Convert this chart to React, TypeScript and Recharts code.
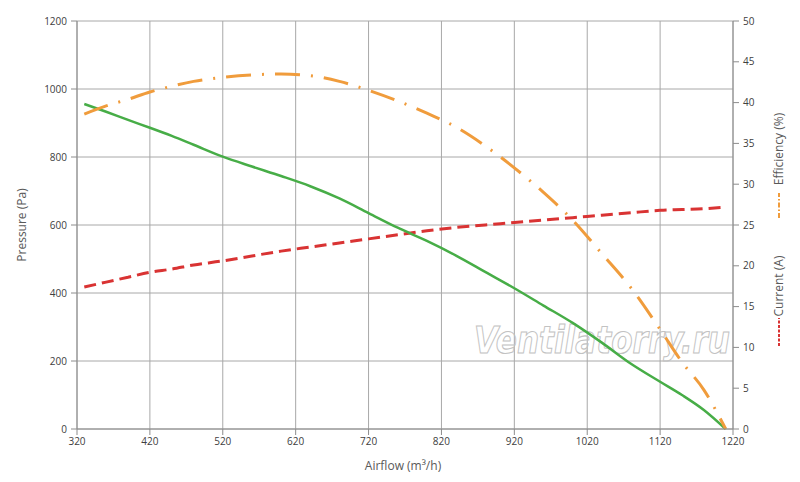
import { LineChart, Line, XAxis, YAxis, CartesianGrid, Customized } from 'recharts'

// airflow points, m3/h
const flow = [330, 360, 390, 420, 450, 480, 520, 560, 600, 640, 680, 720, 760, 800, 840, 880, 920, 960, 1000, 1040, 1080, 1120, 1150, 1180, 1210]
// Pa
const pressure = [956, 933, 909, 886, 862, 836, 801, 772, 744, 714, 678, 635, 592, 553, 510, 462, 414, 363, 312, 254, 192, 139, 100, 56, 0]
// %
const efficiency = [38.6, 39.6, 40.4, 41.3, 42.0, 42.6, 43.1, 43.4, 43.5, 43.3, 42.6, 41.5, 40.2, 38.7, 37.0, 34.7, 32.0, 29.0, 25.6, 21.5, 17.3, 12.2, 8.2, 4.8, 0]
// A
const current = [17.4, 18.0, 18.6, 19.2, 19.6, 20.1, 20.6, 21.2, 21.8, 22.3, 22.8, 23.3, 23.8, 24.3, 24.7, 25.0, 25.3, 25.6, 25.9, 26.2, 26.5, 26.8, 26.9, 27.0, 27.2]

const flowTicks = [320, 420, 520, 620, 720, 820, 920, 1020, 1120, 1220]
const pressureTicks = [0, 200, 400, 600, 800, 1000, 1200]
const rightTicks = [0, 5, 10, 15, 20, 25, 30, 35, 40, 45, 50]

const rows = flow.map((q, i) => ({ q, pressure: pressure[i], efficiency: efficiency[i], current: current[i] }))

const GREEN = '#47ad47'
const ORANGE = '#f09c3c'
const RED = '#d93333'
const FONT = '"Open Sans", sans-serif'
const tick = { fontSize: 10, fill: '#404040', fontFamily: FONT }

function Titles() {
  const t = { fontSize: 12, fill: '#595959', fontFamily: FONT }
  return (
    <g>
      <text x={403} y={470} textAnchor="middle" {...t}>Airflow (m³/h)</text>
      <text x={26} y={225} textAnchor="middle" transform="rotate(-90 26 225)" {...t}>Pressure (Pa)</text>
      <text x={783} y={149} textAnchor="middle" transform="rotate(-90 783 149)" {...t}>Efficiency (%)</text>
      <line x1={779} y1={218} x2={779} y2={193} stroke={ORANGE} strokeWidth={2} strokeDasharray="5 2 1.5 2" />
      <text x={783} y={286} textAnchor="middle" transform="rotate(-90 783 286)" {...t}>Current (A)</text>
      <line x1={779} y1={346} x2={779} y2={318} stroke={RED} strokeWidth={2} strokeDasharray="3 1.5" />
      {/* watermark */}
      <text
        x={602}
        y={353}
        textAnchor="middle"
        fontSize={37}
        fontStyle="italic"
        fontWeight="bold"
        fontFamily="DejaVu Sans, sans-serif"
        textLength={256}
        lengthAdjust="spacingAndGlyphs"
        fill="none"
        stroke="#c2c2c2"
        strokeWidth={1.1}
      >
        Ventilatorry.ru
      </text>
    </g>
  )
}

export default function App() {
  return (
    <div style={{ position: 'absolute', left: 0, top: 0, background: '#fff' }}>
      <LineChart width={800} height={482} data={rows} margin={{ top: 21, right: 0, bottom: 0, left: 0 }}>
        <CartesianGrid yAxisId="p" stroke="#a8a8a8" />
        <XAxis
          dataKey="q"
          type="number"
          domain={[320, 1220]}
          ticks={flowTicks}
          height={53}
          tick={tick}
          tickMargin={3}
          stroke="#8c8c8c"
          allowDataOverflow
        />
        <YAxis
          yAxisId="p"
          domain={[0, 1200]}
          ticks={pressureTicks}
          width={77}
          tick={tick}
          tickMargin={4}
          stroke="#8c8c8c"
        />
        <YAxis
          yAxisId="r"
          orientation="right"
          domain={[0, 50]}
          ticks={rightTicks}
          width={67}
          tick={tick}
          tickMargin={4}
          stroke="#8c8c8c"
        />
        <Line yAxisId="r" dataKey="current" type="monotone" stroke={RED} strokeWidth={3} strokeDasharray="12 6" dot={false} isAnimationActive={false} />
        <Line yAxisId="p" dataKey="pressure" type="monotone" stroke={GREEN} strokeWidth={2.5} dot={false} isAnimationActive={false} />
        <Line yAxisId="r" dataKey="efficiency" type="monotone" stroke={ORANGE} strokeWidth={3} strokeDasharray="25 11 2 11" dot={false} isAnimationActive={false} />
        <Customized component={Titles} />
      </LineChart>
    </div>
  )
}
